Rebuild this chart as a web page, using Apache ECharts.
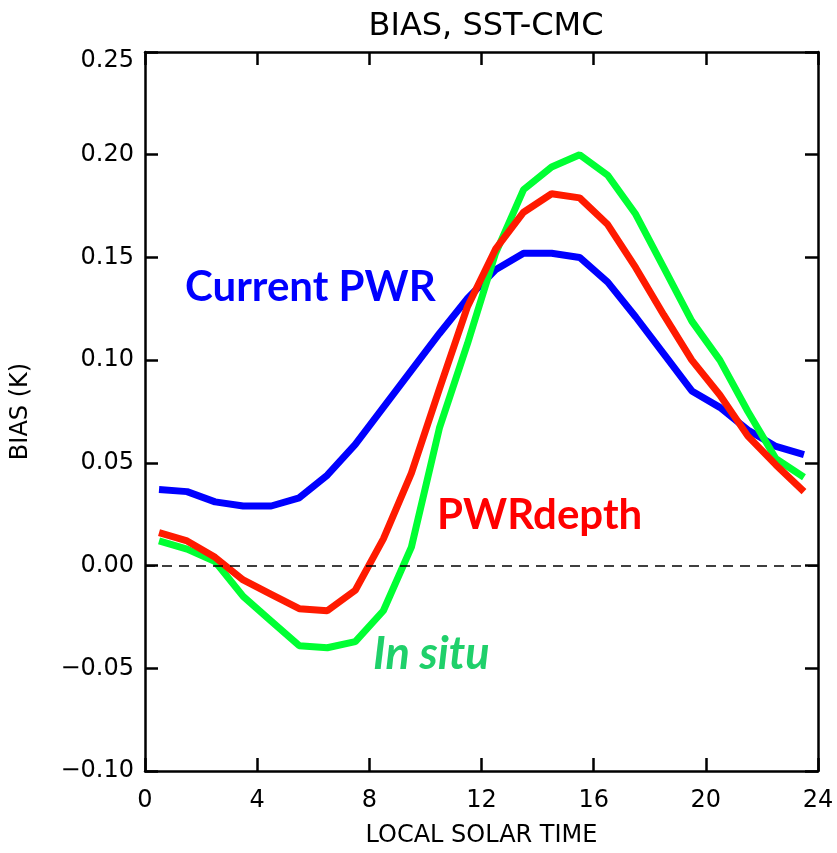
<!DOCTYPE html>
<html>
<head>
<meta charset="utf-8">
<script src="https://cdn.jsdelivr.net/npm/echarts@6/dist/echarts.min.js"></script>
<style>
  html, body { margin: 0; padding: 0; background: #fff; }
  #chart { width: 837px; height: 853px; }
</style>
</head>
<body>
<div id="chart"></div>
<script>
// local solar time (hour centres)
var hours = [0.5, 1.5, 2.5, 3.5, 4.5, 5.5, 6.5, 7.5, 8.5, 9.5, 10.5, 11.5,
             12.5, 13.5, 14.5, 15.5, 16.5, 17.5, 18.5, 19.5, 20.5, 21.5, 22.5, 23.5];

// bias values
var currentPwr = [0.037, 0.036, 0.031, 0.029, 0.029, 0.033, 0.044, 0.059, 0.077, 0.095, 0.113, 0.130,
                  0.144, 0.152, 0.152, 0.150, 0.138, 0.121, 0.103, 0.085, 0.077, 0.066, 0.058, 0.054];
var pwrDepth   = [0.016, 0.012, 0.004, -0.007, -0.014, -0.021, -0.022, -0.012, 0.013, 0.045, 0.086, 0.126,
                  0.154, 0.172, 0.181, 0.179, 0.166, 0.145, 0.122, 0.100, 0.083, 0.063, 0.049, 0.036];
var inSitu     = [0.012, 0.008, 0.002, -0.015, -0.027, -0.039, -0.040, -0.037, -0.022, 0.009, 0.067, 0.108,
                  0.152, 0.183, 0.194, 0.200, 0.190, 0.171, 0.145, 0.119, 0.100, 0.075, 0.052, 0.043];

var xTicks = [0, 4, 8, 12, 16, 20, 24];
var yTicks = [-0.10, -0.05, 0.00, 0.05, 0.10, 0.15, 0.20, 0.25];

function pairs(xs, ys) {
  var out = [];
  for (var i = 0; i < xs.length; i++) out.push([xs[i], ys[i]]);
  return out;
}

var frameLine = { show: true, onZero: false, lineStyle: { color: '#000', width: 2.5 } };
var inTick = { show: true, inside: true, length: 13, lineStyle: { color: '#000', width: 2.5 } };

var chart = echarts.init(document.getElementById('chart'));

var option = {
  animation: false,
  title: {
    text: 'BIAS, SST-CMC',
    left: 481, top: 6, textAlign: 'center',
    textStyle: { fontFamily: 'DejaVu Sans', fontSize: 32, fontWeight: 'normal', color: '#000' }
  },
  grid: { left: 145, right: 19, top: 52, bottom: 82 },
  xAxis: [{
    type: 'value', min: 0, max: 24, interval: 4,
    name: 'LOCAL SOLAR TIME', nameLocation: 'middle', nameGap: 53,
    nameTextStyle: { fontFamily: 'DejaVu Sans', fontSize: 24, color: '#000' },
    axisLine: frameLine, axisTick: inTick,
    axisLabel: {
      margin: 18, color: '#000', fontFamily: 'DejaVu Sans', fontSize: 24,
      formatter: function (v) { return xTicks.indexOf(v) >= 0 ? String(v) : ''; }
    },
    splitLine: { show: false }
  }, {
    type: 'value', position: 'top', min: 0, max: 24, interval: 4,
    axisLine: frameLine, axisTick: inTick, axisLabel: { show: false }, splitLine: { show: false }
  }],
  yAxis: [{
    type: 'value', min: -0.10, max: 0.25, interval: 0.05,
    name: 'BIAS (K)', nameLocation: 'middle', nameGap: 112, nameRotate: 90,
    nameTextStyle: { fontFamily: 'DejaVu Sans', fontSize: 24, color: '#000' },
    axisLine: frameLine, axisTick: inTick,
    axisLabel: {
      margin: 11, color: '#000', fontFamily: 'DejaVu Sans', fontSize: 24,
      formatter: function (v) {
        var s = (v < -1e-9 ? '\u2212' : '') + Math.abs(v).toFixed(2);
        // top label sits a little below its tick, as in the original
        return Math.abs(v - yTicks[yTicks.length - 1]) < 1e-9 ? '{top|' + s + '}' : s;
      },
      rich: { top: { fontFamily: 'DejaVu Sans', fontSize: 24, color: '#000', padding: [18, 0, 0, 0] } }
    },
    splitLine: { show: false }
  }, {
    type: 'value', position: 'right', min: -0.10, max: 0.25, interval: 0.05,
    axisLine: frameLine, axisTick: inTick, axisLabel: { show: false }, splitLine: { show: false }
  }],
  series: [{
    name: 'Current PWR', type: 'line', data: pairs(hours, currentPwr),
    showSymbol: false, lineStyle: { color: '#0000ff', width: 7 }, itemStyle: { color: '#0000ff' },
    markLine: {
      silent: true, symbol: 'none', label: { show: false },
      lineStyle: { color: '#000', type: [10, 7], width: 1.5 },
      data: [{ yAxis: 0 }]
    }
  }, {
    name: 'In situ', type: 'line', data: pairs(hours, inSitu),
    showSymbol: false, lineStyle: { color: '#00ff33', width: 7 }, itemStyle: { color: '#00ff33' }
  }, {
    name: 'PWRdepth', type: 'line', data: pairs(hours, pwrDepth),
    showSymbol: false, lineStyle: { color: '#ff1a00', width: 7 }, itemStyle: { color: '#ff1a00' }
  }],
  graphic: [{
    type: 'text', left: 185, top: 266,
    style: { text: 'Current PWR', fill: '#0000ff', font: 'bold 42px Lato' }
  }, {
    type: 'text', left: 437, top: 494,
    style: { text: 'PWRdepth', fill: '#ff0000', font: 'bold 42px Lato' }
  }, {
    type: 'text', left: 373, top: 632,
    style: { text: 'In situ', fill: '#1fd06a', font: 'italic bold 45px Lato' }
  }]
};

chart.setOption(option);
</script>
</body>
</html>
